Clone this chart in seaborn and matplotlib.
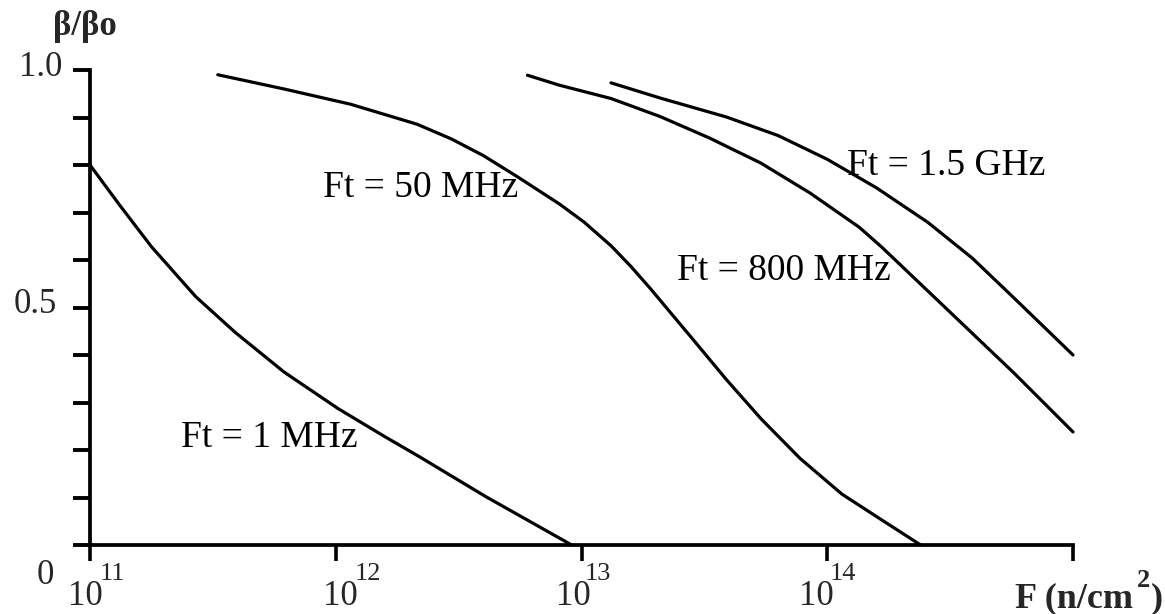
import matplotlib

matplotlib.use("Agg")
import matplotlib.pyplot as plt
import pandas as pd
import seaborn as sns
from matplotlib.ticker import NullLocator

# Fluence F (n/cm^2) given as log10 exponents, beta/beta0.
LOGF_1MHZ = [11.00, 11.12, 11.25, 11.43, 11.59, 11.79, 12.01, 12.20, 12.34, 12.61, 12.96]
BETA_1MHZ = [0.800, 0.716, 0.628, 0.523, 0.448, 0.364, 0.287, 0.228, 0.186, 0.102, 0.000]

LOGF_50MHZ = [11.52, 11.79, 12.06, 12.33, 12.47, 12.60, 12.74, 12.91, 13.01, 13.12,
              13.20, 13.28, 13.39, 13.45, 13.59, 13.73, 13.89, 14.06, 14.23, 14.38]
BETA_50MHZ = [0.990, 0.960, 0.928, 0.886, 0.855, 0.820, 0.775, 0.718, 0.680, 0.630,
              0.587, 0.540, 0.472, 0.435, 0.348, 0.266, 0.182, 0.107, 0.050, 0.000]

LOGF_800MHZ = [12.78, 12.91, 13.12, 13.32, 13.52, 13.73, 13.93, 14.13, 14.22,
               14.49, 14.76, 15.00]
BETA_800MHZ = [0.989, 0.968, 0.940, 0.902, 0.857, 0.804, 0.741, 0.669, 0.628,
               0.495, 0.362, 0.238]

LOGF_1500MHZ = [13.12, 13.32, 13.59, 13.80, 14.00, 14.20, 14.41, 14.59, 14.76, 15.00]
BETA_1500MHZ = [0.973, 0.941, 0.901, 0.862, 0.812, 0.752, 0.679, 0.604, 0.520, 0.400]

SERIES = ["Ft = 1 MHz", "Ft = 50 MHz", "Ft = 800 MHz", "Ft = 1.5 GHz"]

# label anchors (log10 F, beta) for the curve names
LABEL_LOGF = [11.37, 11.95, 13.39, 14.08]
LABEL_BETA = [0.206, 0.733, 0.558, 0.779]

X_DECADES = [11, 12, 13, 14, 15]
Y_TICKS = [0.0, 0.1, 0.2, 0.3, 0.4, 0.5, 0.6, 0.7, 0.8, 0.9, 1.0]


def build_frame() -> pd.DataFrame:
    parts = []
    for name, logf, beta in zip(
        SERIES,
        [LOGF_1MHZ, LOGF_50MHZ, LOGF_800MHZ, LOGF_1500MHZ],
        [BETA_1MHZ, BETA_50MHZ, BETA_800MHZ, BETA_1500MHZ],
    ):
        parts.append(pd.DataFrame({"F": [10.0 ** v for v in logf], "beta": beta, "curve": name}))
    return pd.concat(parts, ignore_index=True)


def main() -> None:
    sns.set_style("white")
    plt.rcParams["font.family"] = ["Liberation Serif", "DejaVu Serif"]

    df = build_frame()

    fig = plt.figure(figsize=(11.65, 6.14), dpi=100)
    ax = fig.add_axes([90 / 1165, 69 / 614, 983 / 1165, 475 / 614])

    sns.lineplot(
        data=df,
        x="F",
        y="beta",
        hue="curve",
        palette=["black"] * len(SERIES),
        linewidth=2.3,
        legend=False,
        estimator=None,
        ax=ax,
    )
    for line in ax.lines:
        line.set_clip_on(False)
        line.set_solid_joinstyle("round")
        line.set_solid_capstyle("round")

    ax.set_xscale("log")
    ax.set_xlim(10.0 ** X_DECADES[0], 10.0 ** X_DECADES[-1])
    ax.set_ylim(0, 1)
    ax.set_xlabel("")
    ax.set_ylabel("")

    ax.set_xticks([10.0 ** d for d in X_DECADES])
    ax.set_xticklabels([])
    ax.xaxis.set_minor_locator(NullLocator())
    ax.set_yticks(Y_TICKS)
    ax.set_yticklabels([])

    ax.tick_params(axis="x", direction="out", length=11.5, width=2.6, color="black", bottom=True)
    ax.tick_params(axis="y", direction="out", length=12, width=2.8, color="black", left=True)

    for side in ("top", "right"):
        ax.spines[side].set_visible(False)
    for side in ("left", "bottom"):
        ax.spines[side].set_linewidth(2.7)
        ax.spines[side].set_color("black")

    # curve names
    for name, lx, ly in zip(SERIES, LABEL_LOGF, LABEL_BETA):
        ax.text(10.0 ** lx, ly, name, fontsize=27, ha="left", va="baseline", color="black")

    # y tick labels
    ax.annotate("1.0", xy=(0, 1.0), xycoords=("axes fraction", "data"), xytext=(-28, 3),
                textcoords="offset pixels", ha="right", va="center", fontsize=25)
    ax.annotate("0.5", xy=(0, 0.5), xycoords=("axes fraction", "data"), xytext=(-33, 3),
                textcoords="offset pixels", ha="right", va="center", fontsize=25)
    ax.annotate("0", xy=(0, 0), xycoords="axes fraction", xytext=(-45, -30),
                textcoords="offset pixels", ha="center", va="center", fontsize=25)

    # x tick labels drawn as "10" with a raised exponent
    base_dx = [13, 22, 9, 6]
    exp_dx = [10, 19, 3, 2]
    for d, bdx, edx in zip(X_DECADES[:-1], base_dx, exp_dx):
        ax.annotate("10", xy=(10.0 ** d, 0), xycoords=("data", "axes fraction"),
                    xytext=(bdx, -60), textcoords="offset pixels",
                    ha="right", va="baseline", fontsize=25)
        ax.annotate(str(d), xy=(10.0 ** d, 0), xycoords=("data", "axes fraction"),
                    xytext=(edx, -35), textcoords="offset pixels",
                    ha="left", va="baseline", fontsize=19)

    # axis titles
    ax.annotate("F (n/cm", xy=(1, 0), xycoords="axes fraction", xytext=(-58, -62),
                textcoords="offset pixels", ha="left", va="baseline",
                fontsize=26, fontweight="bold")
    ax.annotate("2", xy=(1, 0), xycoords="axes fraction", xytext=(64, -42),
                textcoords="offset pixels", ha="left", va="baseline",
                fontsize=19, fontweight="bold")
    ax.annotate(")", xy=(1, 0), xycoords="axes fraction", xytext=(90, -62),
                textcoords="offset pixels", ha="right", va="baseline",
                fontsize=26, fontweight="bold")
    ax.annotate("β/βo", xy=(0, 1), xycoords="axes fraction", xytext=(-37, 35),
                textcoords="offset pixels", ha="left", va="baseline",
                fontsize=25, fontweight="bold")

    fig.savefig("out.png", dpi=100, facecolor="white")
    plt.close(fig)


if __name__ == "__main__":
    main()
